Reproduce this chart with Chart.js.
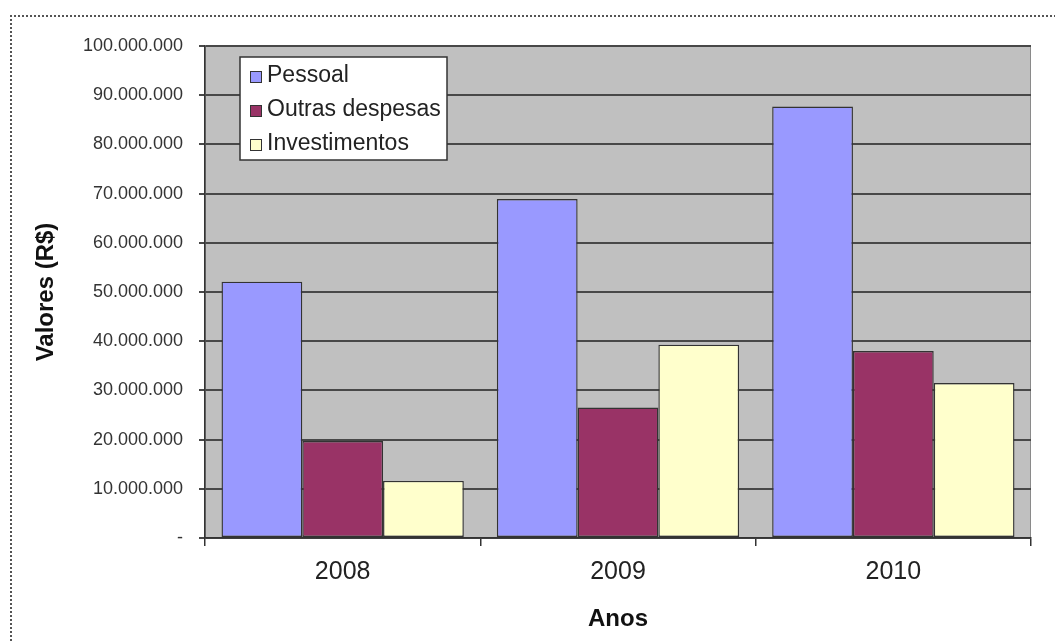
<!DOCTYPE html>
<html>
<head>
<meta charset="utf-8">
<script src="https://cdn.jsdelivr.net/npm/chart.js@4/dist/chart.umd.min.js"></script>
<style>
  body { margin: 0; background: #fff; }
  #wrap { position: relative; width: 1055px; height: 643px; overflow: hidden; }
  #frame { position: absolute; left: 10px; top: 15px; width: 1100px; height: 700px;
           border-top: 2px dotted #555; border-left: 2px dotted #555; }
  canvas { position: absolute; left: 0; top: 0; }
</style>
</head>
<body>
<div id="wrap">
  <div id="frame"></div>
  <canvas id="chart" width="1055" height="643"></canvas>
</div>
<script>
const anos = ['2008', '2009', '2010'];
const pessoal = [52100000, 68900000, 87700000];
const outrasDespesas = [19700000, 26500000, 38000000];
const investimentos = [11600000, 39300000, 31500000];

const FONT = '"Liberation Sans", Arial, sans-serif';

function formatBR(v) {
  if (v === 0) return '-';
  return String(v).replace(/\B(?=(\d{3})+(?!\d))/g, '.');
}

// gray plot area behind the bars
const plotBg = {
  id: 'plotBg',
  beforeDraw(chart) {
    const a = chart.chartArea;
    const ctx = chart.ctx;
    ctx.save();
    ctx.fillStyle = '#c0c0c0';
    ctx.fillRect(a.left, a.top, a.right - a.left, a.bottom - a.top);
    ctx.strokeStyle = '#8a8a8a';
    ctx.lineWidth = 1;
    ctx.strokeRect(a.left + 0.5, a.top + 0.5, a.right - a.left - 1, a.bottom - a.top - 1);
    ctx.restore();
  }
};

// legend box inside the plot, like the excel one
const boxLegend = {
  id: 'boxLegend',
  afterDraw(chart, args, opts) {
    const ctx = chart.ctx;
    ctx.save();
    ctx.fillStyle = '#fff';
    ctx.fillRect(opts.x, opts.y, opts.w, opts.h);
    ctx.strokeStyle = '#333';
    ctx.lineWidth = 1.5;
    ctx.strokeRect(opts.x, opts.y, opts.w, opts.h);
    ctx.font = '23px ' + FONT;
    ctx.textBaseline = 'alphabetic';
    chart.data.datasets.forEach((ds, i) => {
      const y = opts.y + 25 + i * opts.row;
      ctx.fillStyle = ds.backgroundColor;
      ctx.fillRect(opts.x + 10, y - 11, 11, 11);
      ctx.strokeStyle = '#333';
      ctx.lineWidth = 1;
      ctx.strokeRect(opts.x + 10.5, y - 10.5, 11, 11);
      ctx.fillStyle = '#222';
      ctx.fillText(ds.label, opts.x + 27, y);
    });
    ctx.restore();
  }
};

const ctx = document.getElementById('chart').getContext('2d');
new Chart(ctx, {
  type: 'bar',
  data: {
    labels: anos,
    datasets: [
      { label: 'Pessoal', data: pessoal, backgroundColor: '#9999ff' },
      { label: 'Outras despesas', data: outrasDespesas, backgroundColor: '#993366' },
      { label: 'Investimentos', data: investimentos, backgroundColor: '#ffffcc' }
    ].map(d => Object.assign(d, { borderColor: '#333', borderWidth: 1.4, borderSkipped: false }))
  },
  options: {
    responsive: false,
    animation: false,
    categoryPercentage: 0.88,
    barPercentage: 1.0,
    layout: { padding: { left: 20, top: 46, right: 24, bottom: 0 } },
    plugins: {
      legend: { display: false },
      tooltip: { enabled: false },
      boxLegend: { x: 240, y: 57, w: 207, h: 103, row: 34 }
    },
    scales: {
      x: {
        afterFit: s => { s.height = 105; },
        grid: { offset: true, drawOnChartArea: false, drawTicks: true, tickLength: 8, color: '#333', lineWidth: 1.5 },
        border: { color: '#333', width: 1.5 },
        ticks: { color: '#222', font: { family: FONT, size: 25 }, padding: 11 },
        title: { display: true, text: 'Anos', color: '#111', font: { family: FONT, size: 24, weight: 'bold' }, padding: { top: 0, bottom: 9 } }
      },
      y: {
        min: 0,
        max: 100000000,
        afterFit: s => { s.width = 185; },
        grid: { color: '#484848', lineWidth: 2, tickLength: 6 },
        border: { color: '#333', width: 1.5 },
        ticks: { stepSize: 10000000, color: '#333', font: { family: FONT, size: 18 }, padding: 16, callback: v => formatBR(v) },
        title: { display: true, text: 'Valores (R$)', color: '#111', font: { family: FONT, size: 24, weight: 'bold' }, padding: { top: 12, bottom: 0 } }
      }
    }
  },
  plugins: [plotBg, boxLegend]
});
</script>
</body>
</html>
